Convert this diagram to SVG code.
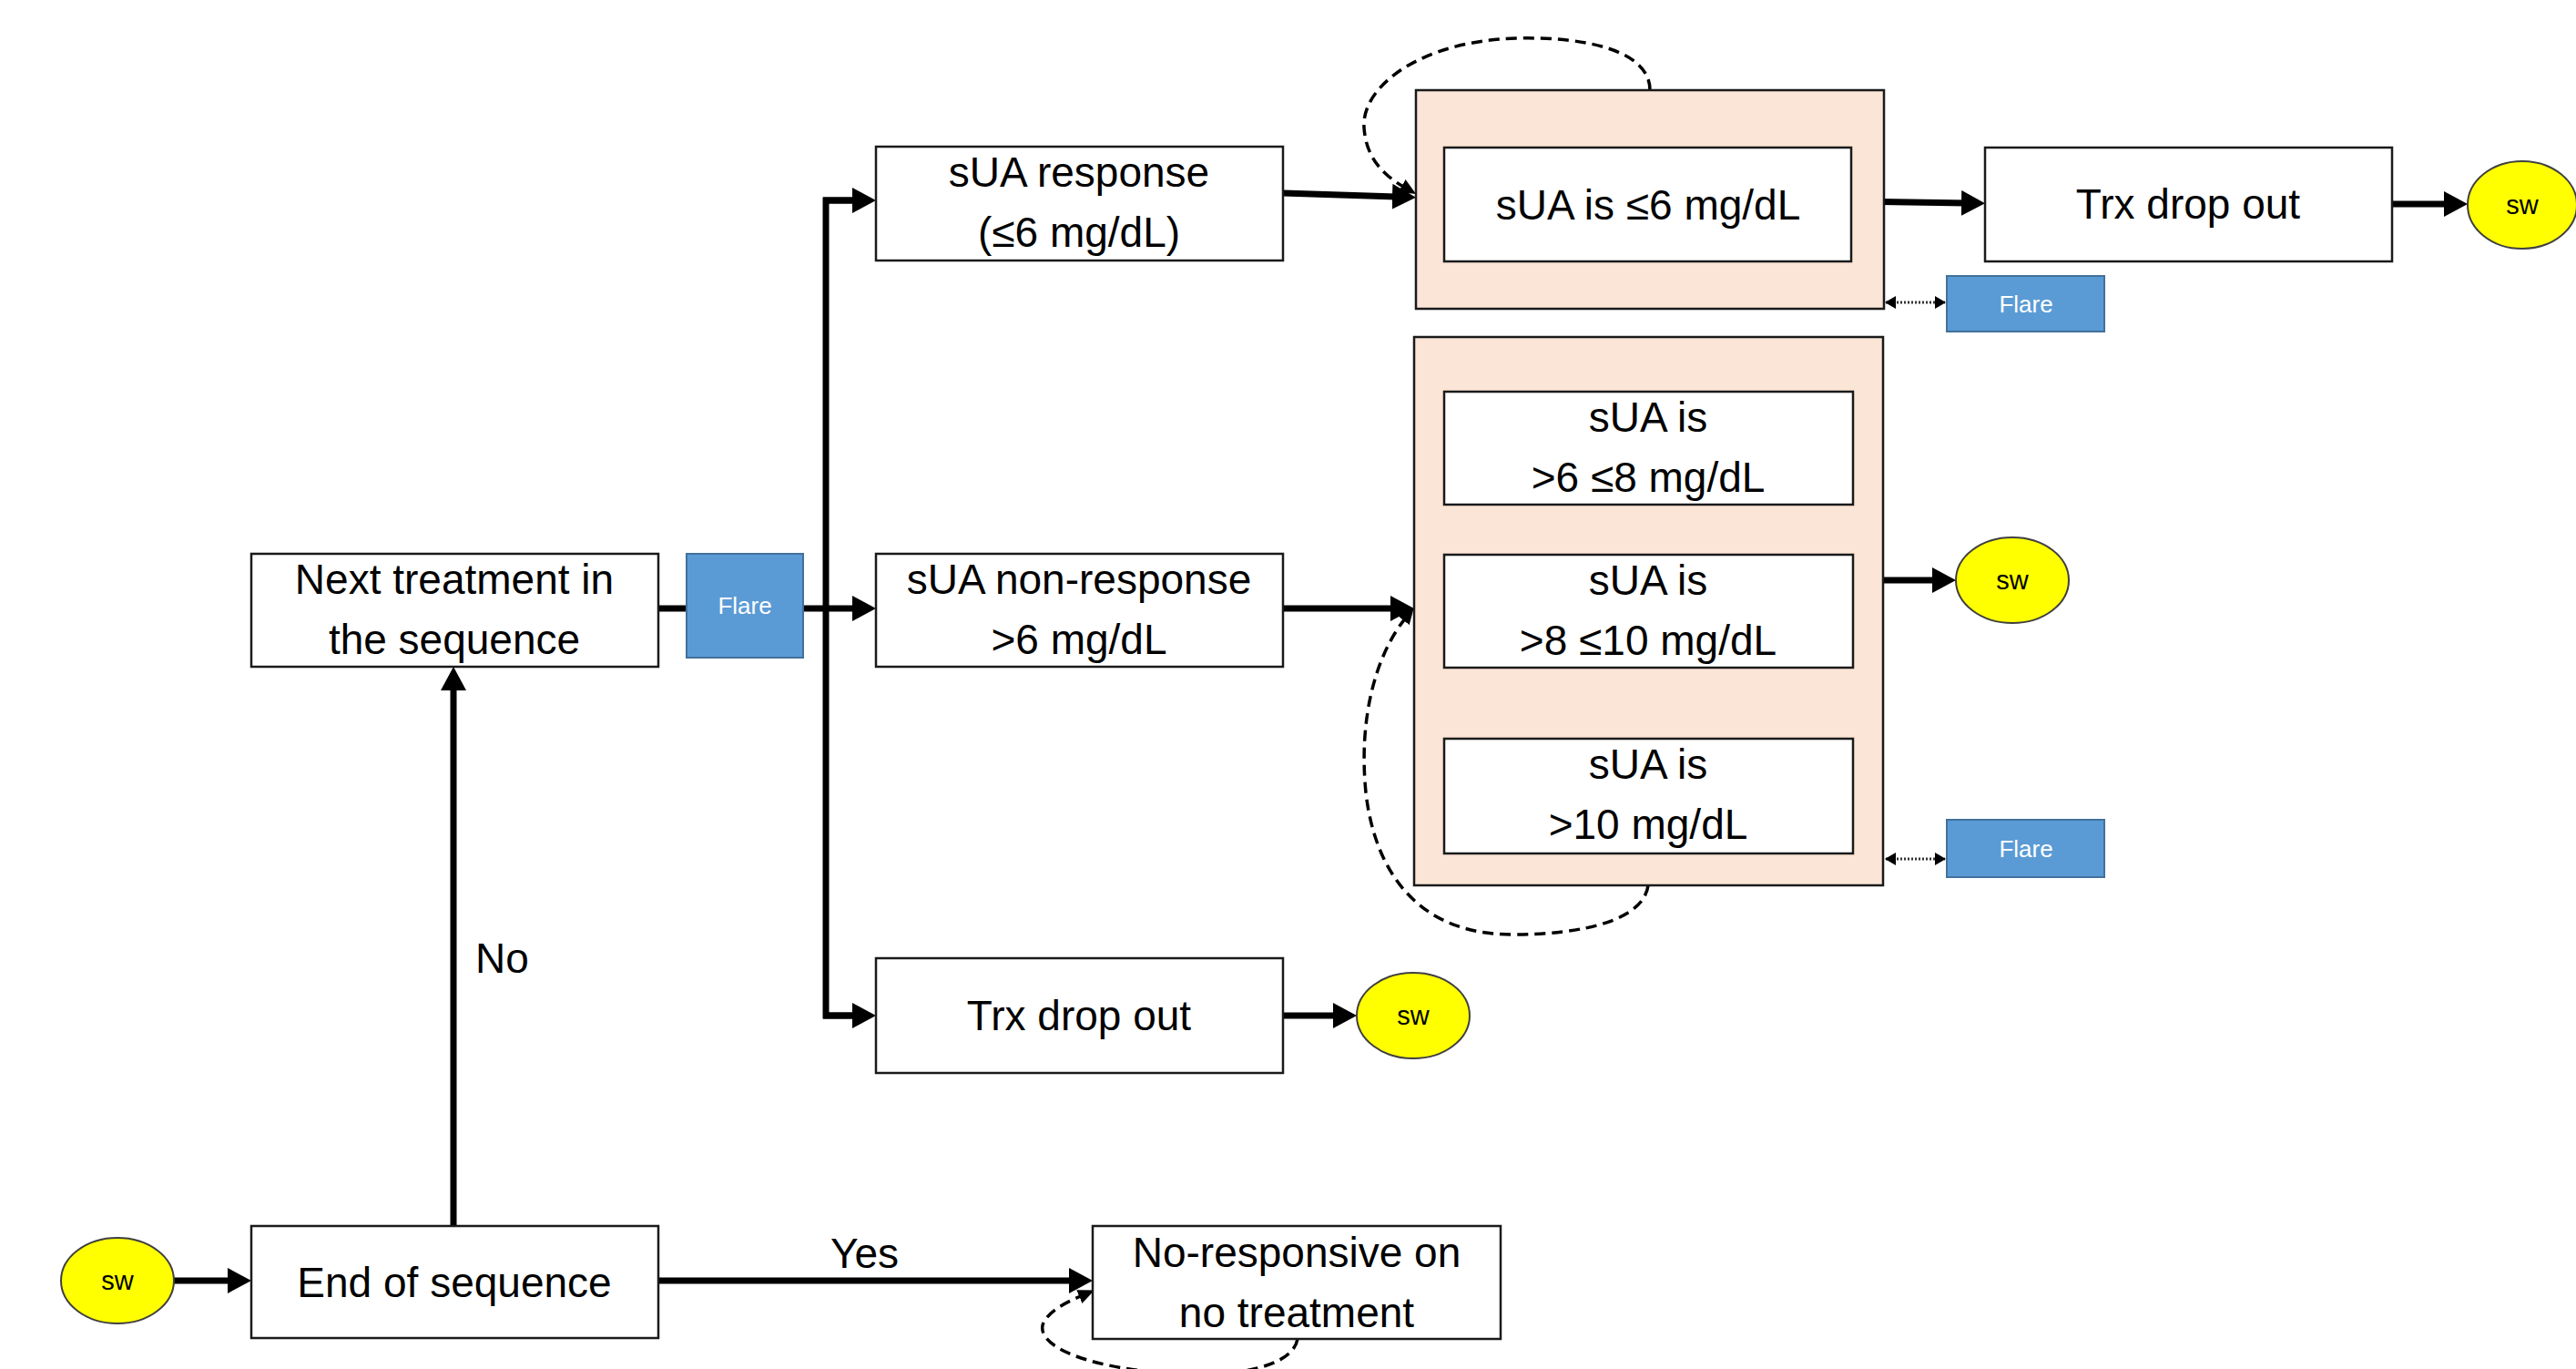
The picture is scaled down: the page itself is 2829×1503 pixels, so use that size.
<svg xmlns="http://www.w3.org/2000/svg" width="2829" height="1503" viewBox="0 0 2829 1503">
<style>
  .box { fill: #ffffff; stroke: #1a1a1a; stroke-width: 2.5; }
  .peach { fill: #FBE5D6; stroke: #1a1a1a; stroke-width: 2.5; }
  .flare { fill: #5B9BD5; stroke: #41719C; stroke-width: 2; }
  .sw { fill: #FFFF00; stroke: #404040; stroke-width: 2; }
  .t { font-family: "Liberation Sans", Arial, sans-serif; font-size: 46px; fill: #000; text-anchor: middle; }
  .tl { font-family: "Liberation Sans", Arial, sans-serif; font-size: 46px; fill: #000; }
  .ft { font-family: "Liberation Sans", Arial, sans-serif; font-size: 26px; fill: #ffffff; text-anchor: middle; }
  .st { font-family: "Liberation Sans", Arial, sans-serif; font-size: 29px; fill: #000; text-anchor: middle; }
  .thick { fill: none; stroke: #000; stroke-width: 7; marker-end: url(#ah); }
  .plain { fill: none; stroke: #000; stroke-width: 7; }
  .dash { fill: none; stroke: #000; stroke-width: 3.5; stroke-dasharray: 12 7; marker-end: url(#ahs); }
  .dot { fill: none; stroke: #333; stroke-width: 3; stroke-dasharray: 2 2; marker-start: url(#ahd); marker-end: url(#ahd); }
</style>
<defs>
  <marker id="ah" markerUnits="userSpaceOnUse" markerWidth="26" markerHeight="28" refX="6" refY="14" orient="auto">
    <path d="M0,0 L26,14 L0,28 z" fill="#000"/>
  </marker>
  <marker id="ahs" markerUnits="userSpaceOnUse" markerWidth="18" markerHeight="16" refX="4" refY="8" orient="auto">
    <path d="M0,0 L18,8 L0,16 z" fill="#000"/>
  </marker>
  <marker id="ahd" markerUnits="userSpaceOnUse" markerWidth="12" markerHeight="14" refX="11" refY="7" orient="auto-start-reverse">
    <path d="M0,0 L12,7 L0,14 z" fill="#000"/>
  </marker>
</defs>

<g id="connectors">
  <line class="thick" x1="191" y1="1406" x2="256" y2="1406"/>
  <line class="thick" x1="723" y1="1406" x2="1180" y2="1406"/>
  <line class="thick" x1="498" y1="1346" x2="498" y2="752"/>
  <line class="plain" x1="723" y1="668" x2="754" y2="668"/>
  <line class="plain" x1="882" y1="668" x2="907" y2="668"/>
  <polyline class="plain" points="942,220 907,220 907,1115 942,1115" stroke-linejoin="miter"/>
  <line class="thick" x1="904" y1="220" x2="942" y2="220"/>
  <line class="thick" x1="904" y1="668" x2="942" y2="668"/>
  <line class="thick" x1="904" y1="1115" x2="942" y2="1115"/>
  <line class="thick" x1="1409" y1="212" x2="1535" y2="216"/>
  <line class="thick" x1="1409" y1="668" x2="1533" y2="668"/>
  <line class="thick" x1="1409" y1="1115" x2="1470" y2="1115"/>
  <line class="thick" x1="2033" y1="221" x2="2160" y2="223"/>
  <line class="thick" x1="2627" y1="224" x2="2690" y2="224"/>
  <line class="thick" x1="2068" y1="637" x2="2128" y2="637"/>
  <line class="dot" x1="2071" y1="332" x2="2136" y2="332"/>
  <line class="dot" x1="2071" y1="943" x2="2136" y2="943"/>
  <path class="dash" d="M1812,99 C1812,55 1740,40 1665,42 C1560,45 1495,95 1498,140 C1500,170 1515,190 1543,206"/>
  <path class="dash" d="M1810,972 C1805,1010 1740,1026 1660,1026 C1560,1026 1510,960 1500,870 C1492,790 1510,720 1544,678"/>
  <path class="dash" d="M1425,1470 C1420,1500 1360,1512 1290,1508 C1200,1503 1140,1480 1145,1455 C1150,1440 1170,1430 1189,1422"/>
</g>

<g id="label-no"><text class="tl" x="522" y="1068">No</text></g>
<g id="label-yes"><text class="tl" x="912" y="1392">Yes</text></g>

<g id="sw-start">
  <ellipse class="sw" cx="129" cy="1406" rx="62" ry="47"/>
  <text class="st" x="129" y="1416">sw</text>
</g>
<g id="end-of-sequence">
  <rect class="box" x="276" y="1346" width="447" height="123"/>
  <text class="t" x="499" y="1424">End of sequence</text>
</g>
<g id="no-responsive">
  <rect class="box" x="1200" y="1346" width="448" height="124"/>
  <text class="t" x="1424" y="1391">No-responsive on</text>
  <text class="t" x="1424" y="1457">no treatment</text>
</g>
<g id="next-treatment">
  <rect class="box" x="276" y="608" width="447" height="124"/>
  <text class="t" x="499" y="652">Next treatment in</text>
  <text class="t" x="499" y="718">the sequence</text>
</g>
<g id="flare-mid">
  <rect class="flare" x="754" y="608" width="128" height="114"/>
  <text class="ft" x="818" y="674">Flare</text>
</g>
<g id="sua-response">
  <rect class="box" x="962" y="161" width="447" height="125"/>
  <text class="t" x="1185" y="205">sUA response</text>
  <text class="t" x="1185" y="271">(≤6 mg/dL)</text>
</g>
<g id="sua-nonresponse">
  <rect class="box" x="962" y="608" width="447" height="124"/>
  <text class="t" x="1185" y="652">sUA non-response</text>
  <text class="t" x="1185" y="718">&gt;6 mg/dL</text>
</g>
<g id="trx-dropout-1">
  <rect class="box" x="962" y="1052" width="447" height="126"/>
  <text class="t" x="1185" y="1131">Trx drop out</text>
</g>
<g id="sw-trx1">
  <ellipse class="sw" cx="1552" cy="1115" rx="62" ry="47"/>
  <text class="st" x="1552" y="1125">sw</text>
</g>
<g id="peach-1">
  <rect class="peach" x="1555" y="99" width="514" height="240"/>
</g>
<g id="sua-le6">
  <rect class="box" x="1586" y="162" width="447" height="125"/>
  <text class="t" x="1810" y="241">sUA is ≤6 mg/dL</text>
</g>
<g id="trx-dropout-2">
  <rect class="box" x="2180" y="162" width="447" height="125"/>
  <text class="t" x="2403" y="240">Trx drop out</text>
</g>
<g id="sw-top">
  <ellipse class="sw" cx="2770" cy="225" rx="60" ry="48"/>
  <text class="st" x="2770" y="235">sw</text>
</g>
<g id="flare-1">
  <rect class="flare" x="2138" y="303" width="173" height="61"/>
  <text class="ft" x="2225" y="343">Flare</text>
</g>
<g id="peach-2">
  <rect class="peach" x="1553" y="370" width="515" height="602"/>
</g>
<g id="sua-6-8">
  <rect class="box" x="1586" y="430" width="449" height="124"/>
  <text class="t" x="1810" y="474">sUA is</text>
  <text class="t" x="1810" y="540">&gt;6 ≤8 mg/dL</text>
</g>
<g id="sua-8-10">
  <rect class="box" x="1586" y="609" width="449" height="124"/>
  <text class="t" x="1810" y="653">sUA is</text>
  <text class="t" x="1810" y="719">&gt;8 ≤10 mg/dL</text>
</g>
<g id="sua-gt10">
  <rect class="box" x="1586" y="811" width="449" height="126"/>
  <text class="t" x="1810" y="855">sUA is</text>
  <text class="t" x="1810" y="921">&gt;10 mg/dL</text>
</g>
<g id="sw-mid">
  <ellipse class="sw" cx="2210" cy="637" rx="62" ry="47"/>
  <text class="st" x="2210" y="647">sw</text>
</g>
<g id="flare-2">
  <rect class="flare" x="2138" y="900" width="173" height="63"/>
  <text class="ft" x="2225" y="941">Flare</text>
</g>
</svg>
